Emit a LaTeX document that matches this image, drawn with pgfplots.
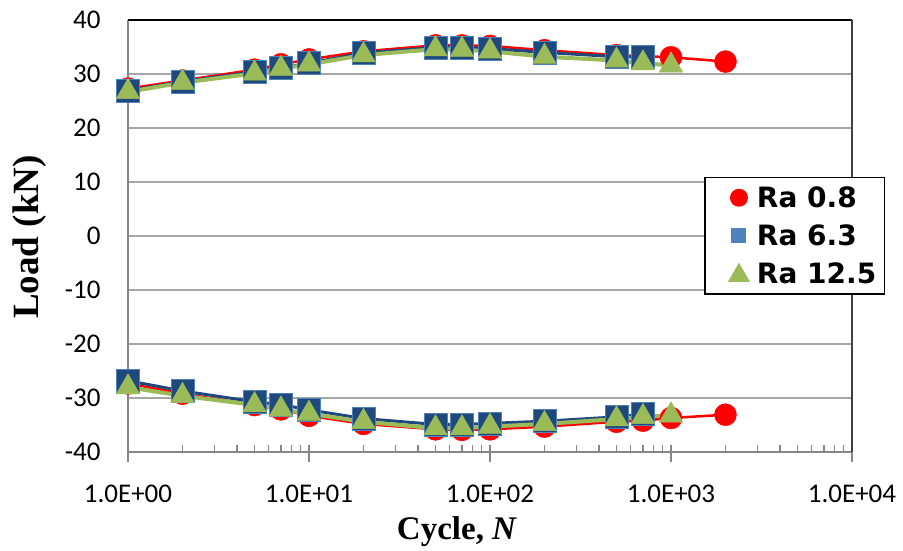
\documentclass[border=0pt]{standalone}
\usepackage{fontspec}
\usepackage{pgfplots}
\pgfplotsset{compat=1.18}
\newfontfamily\calib{Carlito}
\newfontfamily\legf{DejaVu Sans}
\newfontfamily\timesf{Liberation Serif}
\definecolor{rred}{HTML}{FF0000}
\definecolor{navy}{HTML}{1F497D}
\definecolor{sblue}{HTML}{4F81BD}
\definecolor{ogreen}{HTML}{9BBB59}
\definecolor{gridg}{HTML}{A6A6A6}
\definecolor{axg}{HTML}{868686}
\begin{document}
\begin{tikzpicture}
\useasboundingbox (-128bp,-99bp) rectangle (775bp,452bp);
\begin{axis}[
  scale only axis, width=724bp, height=432bp,
  xmode=log, xmin=1, xmax=10000, ymin=-40, ymax=40,
  clip=false,
  axis x line*=bottom, axis y line*=left,
  axis line style={axg, line width=1.2bp},
  xtick={1,10,100,1000,10000},
  xticklabels={1.0E+00,1.0E+01,1.0E+02,1.0E+03,1.0E+04},
  ytick={-40,-30,-20,-10,0,10,20,30,40},
  yticklabels={-40,-30,-20,-10,0,10,20,30,40},
  ymajorgrids,
  major grid style={gridg, line width=1.2bp},
  tick align=inside,
  major tick length=17bp, minor tick length=7bp,
  xtick style={axg, line width=1.2bp},
  ytick style={draw=none},
  every major tick/.append style={yshift=-10bp},
  xticklabel style={font=\calib\fontsize{27bp}{30bp}\selectfont, yshift=-29bp},
  yticklabel style={font=\calib\fontsize{27bp}{30bp}\selectfont, xshift=-24bp},
  legend style={at={(rel axis cs:1,1)}, anchor=north east, xshift=33bp, yshift=-157bp,
    draw=black, line width=1.5bp, font=\legf\bfseries\fontsize{28bp}{30bp}\selectfont,
    row sep=4bp, inner xsep=6bp, inner ysep=3bp},
  legend cell align=left,
]
\draw[black, line width=1.5bp] (rel axis cs:0,1) -- (rel axis cs:1,1);
\draw[black!75, line width=1.5bp] (rel axis cs:1,1) -- (rel axis cs:1,0);

% Ra 0.8
\addplot[rred, line width=2.5bp, mark=*, mark size=11bp, mark options={fill=rred, draw=rred, line width=0.5bp}, forget plot]
coordinates {(1,27.3) (2,28.8) (5,30.8) (7,31.8) (10,32.7) (20,34.2) (50,35.3) (70,35.3) (100,35.2) (200,34.4) (500,33.5) (700,33.3) (1000,33.1) (2000,32.3)};
\addplot[rred, line width=2.5bp, mark=*, mark size=11bp, mark options={fill=rred, draw=rred, line width=0.5bp}, forget plot]
coordinates {(1,-27.3) (2,-29.2) (5,-31.3) (7,-32.1) (10,-33.3) (20,-34.8) (50,-35.8) (70,-35.9) (100,-35.8) (200,-35.3) (500,-34.4) (700,-34.2) (1000,-33.7) (2000,-33.1)};
% Ra 6.3
\addplot[navy, line width=3bp, mark=square*, mark size=11.5bp, mark options={fill=navy, draw=sblue, line width=0.6bp}, forget plot]
coordinates {(1,26.9) (2,28.6) (5,30.4) (7,31.1) (10,32.0) (20,33.9) (50,34.9) (70,34.9) (100,34.7) (200,34.0) (500,33.2) (700,33.1)};
\addplot[navy, line width=3bp, mark=square*, mark size=11.5bp, mark options={fill=navy, draw=sblue, line width=0.6bp}, forget plot]
coordinates {(1,-26.8) (2,-28.7) (5,-30.7) (7,-31.2) (10,-32.2) (20,-33.8) (50,-34.9) (70,-34.9) (100,-34.7) (200,-34.3) (500,-33.5) (700,-33.0)};
% Ra 12.5
\addplot[ogreen, line width=4bp, mark=triangle*, mark size=13.5bp, mark options={fill=ogreen, draw=ogreen, line width=0.5bp}, forget plot]
coordinates {(1,26.7) (2,28.4) (5,30.1) (7,31.0) (10,31.8) (20,33.5) (50,34.6) (70,34.5) (100,34.2) (200,33.2) (500,32.5) (700,32.0) (1000,31.6)};
\addplot[ogreen, line width=4bp, mark=triangle*, mark size=13.5bp, mark options={fill=ogreen, draw=ogreen, line width=0.5bp}, forget plot]
coordinates {(1,-28.0) (2,-29.6) (5,-31.3) (7,-32.1) (10,-32.9) (20,-34.4) (50,-35.6) (70,-35.6) (100,-35.3) (200,-34.8) (500,-33.9) (700,-33.5) (1000,-33.2)};

\addlegendimage{legend image code/.code={\path[draw=none,fill=none] (0bp,-17bp) rectangle (44bp,17bp); \fill[rred, draw=none] (28bp,0bp) circle (9bp);}}
\addlegendentry{Ra 0.8}
\addlegendimage{legend image code/.code={\path[draw=none,fill=none] (0bp,-17bp) rectangle (44bp,17bp); \fill[sblue, draw=none] (20.5bp,-7.5bp) rectangle (35.5bp,7.5bp);}}
\addlegendentry{Ra 6.3}
\addlegendimage{legend image code/.code={\path[draw=none,fill=none] (0bp,-17bp) rectangle (44bp,17bp); \fill[ogreen, draw=none] (17bp,-8bp) -- (39bp,-8bp) -- (28bp,11bp) -- cycle;}}
\addlegendentry{Ra 12.5}
\end{axis}
\node[rotate=90, font=\timesf\bfseries\fontsize{37bp}{40bp}\selectfont] at (-98bp,215bp) {Load (kN)};
\node[font=\timesf\bfseries\fontsize{33bp}{36bp}\selectfont] at (329bp,-80bp) {Cycle, \textit{N}};
\end{tikzpicture}
\end{document}
